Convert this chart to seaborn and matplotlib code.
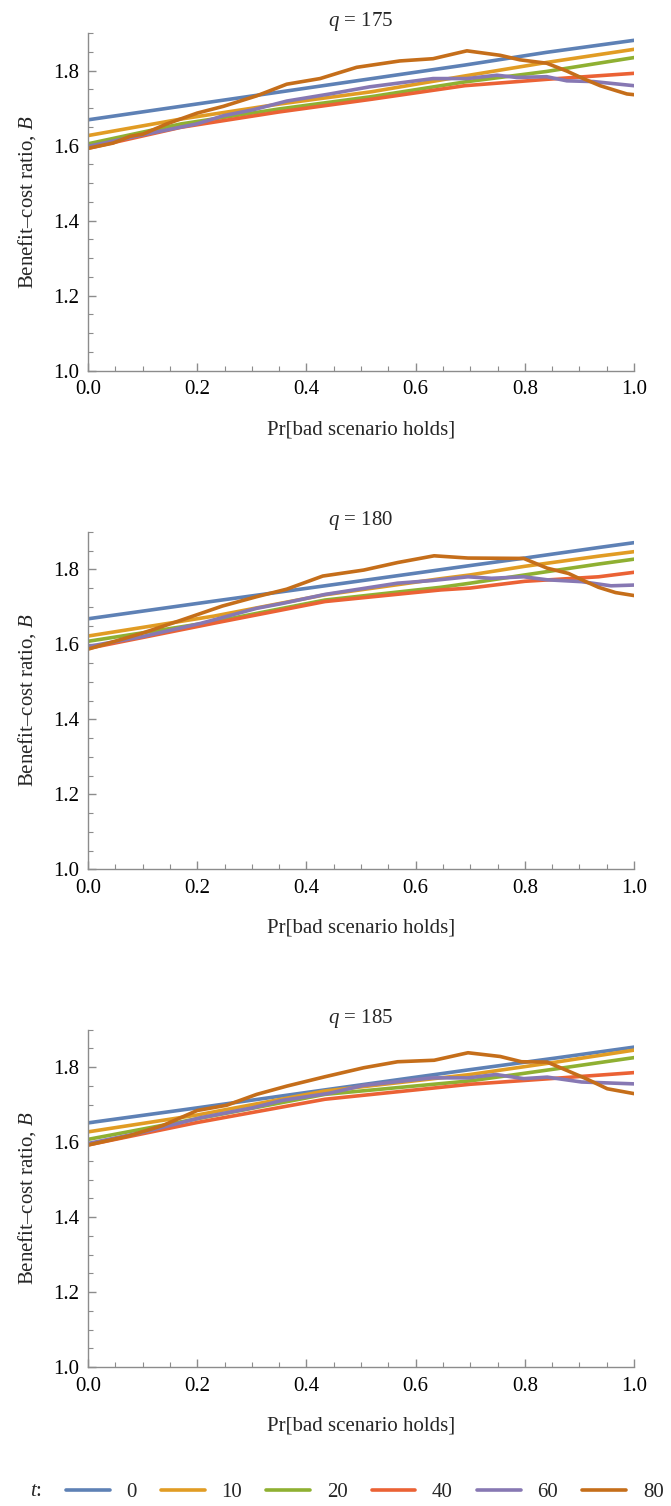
import numpy as np
import pandas as pd
import matplotlib
matplotlib.use("Agg")
import matplotlib.pyplot as plt
from matplotlib.ticker import MultipleLocator, FormatStrFormatter
from matplotlib.lines import Line2D
import seaborn as sns

# ---------------- data ----------------
t_values = [0, 10, 20, 40, 60, 80]
q_values = [175, 180, 185]
colors = ["#5E81B5", "#E19C24", "#8FB032", "#EB6235", "#8778B3", "#C56E1A"]

# q = 175
x_lin = [0.0, 0.17, 0.35, 0.52, 0.69, 0.84, 1.0]
q175_t0 = [1.669, 1.705, 1.743, 1.779, 1.815, 1.849, 1.881]
q175_t10 = [1.627, 1.671, 1.711, 1.744, 1.786, 1.822, 1.857]
q175_t20 = [1.605, 1.658, 1.698, 1.731, 1.770, 1.798, 1.835]
q175_t40 = [1.593, 1.649, 1.690, 1.724, 1.760, 1.777, 1.793]
q175_x60 = [0.0, 0.107, 0.199, 0.248, 0.303, 0.364, 0.443, 0.516, 0.632, 0.694, 0.749, 0.785, 0.840, 0.877, 0.926, 1.0]
q175_t60 = [1.598, 1.631, 1.658, 1.680, 1.696, 1.719, 1.738, 1.757, 1.779, 1.779, 1.788, 1.782, 1.784, 1.773, 1.771, 1.760]
q175_x80 = [0.0, 0.046, 0.077, 0.101, 0.144, 0.200, 0.248, 0.309, 0.364, 0.425, 0.492, 0.571, 0.632, 0.694,
            0.755, 0.791, 0.840, 0.877, 0.907, 0.938, 0.969, 0.987, 1.0]
q175_t80 = [1.593, 1.607, 1.625, 1.631, 1.658, 1.687, 1.705, 1.733, 1.764, 1.779, 1.809, 1.826, 1.832, 1.853,
            1.841, 1.829, 1.820, 1.799, 1.779, 1.760, 1.746, 1.738, 1.736]

# q = 180
x_lin2 = [0.0, 0.23, 0.434, 0.646, 0.70, 0.80, 0.935, 1.0]
q180_t0 = [1.668, 1.715, 1.756, 1.799, 1.810, 1.830, 1.858, 1.871]
q180_t10 = [1.622, 1.675, 1.732, 1.775, 1.785, 1.808, 1.835, 1.847]
q180_t20 = [1.608, 1.660, 1.718, 1.752, 1.763, 1.785, 1.814, 1.827]
q180_t40 = [1.589, 1.656, 1.714, 1.745, 1.750, 1.768, 1.780, 1.792]
q180_x60 = [0.0, 0.098, 0.207, 0.309, 0.356, 0.434, 0.567, 0.630, 0.696, 0.739, 0.798, 0.841, 0.904, 0.958, 1.0]
q180_t60 = [1.594, 1.620, 1.656, 1.696, 1.709, 1.733, 1.763, 1.770, 1.780, 1.776, 1.780, 1.772, 1.767, 1.756, 1.758]
q180_x80 = [0.0, 0.098, 0.168, 0.246, 0.309, 0.364, 0.430, 0.505, 0.567, 0.634, 0.696, 0.798, 0.841, 0.880,
            0.912, 0.935, 0.966, 1.0]
q180_t80 = [1.587, 1.629, 1.663, 1.702, 1.727, 1.747, 1.782, 1.798, 1.818, 1.836, 1.830, 1.829, 1.803, 1.789,
            1.767, 1.752, 1.738, 1.730]

# q = 185
x_lin3 = [0.0, 0.2, 0.434, 0.70, 0.857, 1.0]
q185_t0 = [1.651, 1.691, 1.739, 1.793, 1.824, 1.853]
q185_t10 = [1.627, 1.672, 1.736, 1.780, 1.813, 1.845]
q185_t20 = [1.607, 1.662, 1.727, 1.763, 1.795, 1.825]
q185_t40 = [1.592, 1.652, 1.714, 1.754, 1.770, 1.785]
q185_x60 = [0.0, 0.098, 0.207, 0.301, 0.356, 0.442, 0.505, 0.630, 0.696, 0.747, 0.798, 0.841, 0.904, 1.0]
q185_t60 = [1.596, 1.625, 1.665, 1.691, 1.711, 1.730, 1.751, 1.771, 1.771, 1.780, 1.769, 1.773, 1.760, 1.755]
q185_x80 = [0.0, 0.074, 0.137, 0.200, 0.254, 0.309, 0.364, 0.434, 0.505, 0.567, 0.634, 0.696, 0.755, 0.794,
            0.841, 0.880, 0.912, 0.951, 1.0]
q185_t80 = [1.592, 1.616, 1.644, 1.684, 1.698, 1.727, 1.749, 1.774, 1.798, 1.814, 1.818, 1.838, 1.828, 1.814,
            1.813, 1.789, 1.769, 1.742, 1.729]

panels = {
    175: [(x_lin, q175_t0), (x_lin, q175_t10), (x_lin, q175_t20), (x_lin, q175_t40),
          (q175_x60, q175_t60), (q175_x80, q175_t80)],
    180: [(x_lin2, q180_t0), (x_lin2, q180_t10), (x_lin2, q180_t20), (x_lin2, q180_t40),
          (q180_x60, q180_t60), (q180_x80, q180_t80)],
    185: [(x_lin3, q185_t0), (x_lin3, q185_t10), (x_lin3, q185_t20), (x_lin3, q185_t40),
          (q185_x60, q185_t60), (q185_x80, q185_t80)],
}

# ---------------- style ----------------
sns.set_style("ticks")
plt.rcParams["font.family"] = ["Liberation Serif", "DejaVu Serif"]
plt.rcParams["mathtext.fontset"] = "custom"
plt.rcParams["mathtext.rm"] = "Liberation Serif"
plt.rcParams["mathtext.it"] = "Liberation Serif:italic"

FS = 15
AXC = "#8c8c8c"
LW = 2.6
palette = dict(zip(t_values, colors))

W, H = 671, 1506
fig = plt.figure(figsize=(W / 100, H / 100), dpi=100)

left = 88 / W
width = 546 / W
height = 337.5 / H
bottoms = [1 - 370.7 / H, 1 - 869.3 / H, 1 - 1367 / H]

for q, bottom in zip(q_values, bottoms):
    rows = []
    for t, (xs, ys) in zip(t_values, panels[q]):
        for xv, yv in zip(xs, ys):
            rows.append({"p": xv, "B": yv, "t": t})
    df = pd.DataFrame(rows)
    ax = fig.add_axes([left, bottom, width, height])
    sns.lineplot(data=df, x="p", y="B", hue="t", palette=palette, estimator=None,
                 linewidth=LW, legend=False, ax=ax, sort=True)
    ax.set_xlim(0, 1)
    ax.set_ylim(1.0, 1.9)
    ax.xaxis.set_major_locator(MultipleLocator(0.2))
    ax.xaxis.set_minor_locator(MultipleLocator(0.05))
    ax.yaxis.set_major_locator(MultipleLocator(0.2))
    ax.yaxis.set_minor_locator(MultipleLocator(0.05))
    ax.xaxis.set_major_formatter(FormatStrFormatter("%.1f"))
    ax.yaxis.set_major_formatter(FormatStrFormatter("%.1f"))
    for s in ["top", "right"]:
        ax.spines[s].set_visible(False)
    for s in ["left", "bottom"]:
        ax.spines[s].set_color(AXC)
        ax.spines[s].set_linewidth(1.0)
    ax.tick_params(which="major", direction="in", length=6, width=1, color=AXC,
                   labelsize=FS, labelcolor="black")
    ax.tick_params(which="minor", direction="in", length=3.5, width=0.8, color=AXC)
    ax.tick_params(axis="x", which="major", pad=7)
    ax.tick_params(axis="y", which="major", pad=6)
    ax.set_xlabel("Pr[bad scenario holds]", fontsize=FS, labelpad=15)
    ax.set_ylabel("Benefit\u2013cost ratio, $B$", fontsize=FS, labelpad=11)
    ax.set_title(f"$q$ = {q}", fontsize=FS, pad=2.5)

# legend
handles = [Line2D([], [], color=c, lw=LW) for c in colors]
labels = [str(t) for t in t_values]
ly = 1 - 1492 / H
fig.legend(handles, labels, loc="center left", bbox_to_anchor=(66 / W, ly), ncol=6,
           frameon=False, fontsize=FS, handlelength=2.1, handletextpad=0.8,
           columnspacing=1.16, borderpad=0, borderaxespad=0)
fig.text(36 / W, ly, "$t$:", fontsize=FS, ha="center", va="center")

fig.savefig("out.png", dpi=100)
